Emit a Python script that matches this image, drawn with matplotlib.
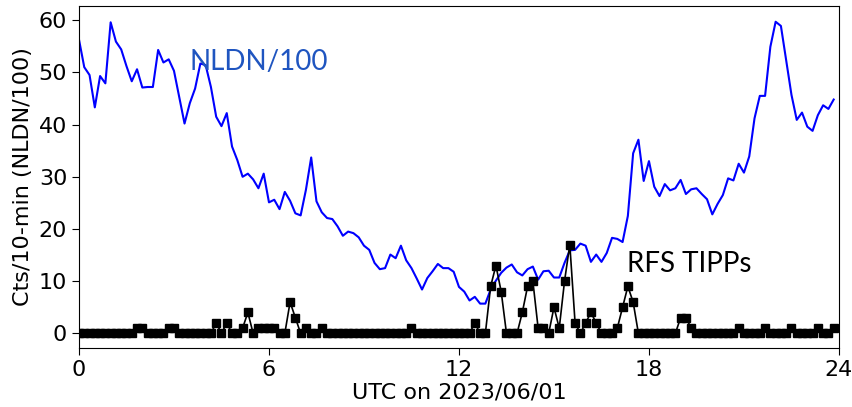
"""
NLDN flash counts (scaled by 1/100) and RFS TIPP counts in 10-min bins
for 2023/06/01, UTC.
"""
import matplotlib

matplotlib.use("Agg")
import matplotlib.pyplot as plt
import numpy as np

# 10-min bins starting at 00:00 UTC
BIN_MINUTES = 10

nldn_per100 = [
    56.3, 51.0, 49.5, 43.3, 49.3, 47.9, 59.6, 55.9, 54.4, 51.2,
    48.3, 50.6, 47.1, 47.2, 47.2, 54.3, 51.9, 52.5, 50.3, 45.2,
    40.2, 44.1, 46.9, 51.7, 51.4, 47.2, 41.5, 39.7, 42.2, 35.8,
    33.2, 30.0, 30.6, 29.5, 27.8, 30.6, 25.1, 25.6, 23.8, 27.1,
    25.4, 23.0, 22.6, 27.5, 33.7, 25.3, 23.2, 22.1, 21.9, 20.5,
    18.7, 19.5, 19.2, 18.4, 16.8, 16.0, 13.5, 12.3, 12.5, 15.1,
    14.4, 16.8, 14.0, 12.5, 10.5, 8.4, 10.6, 11.9, 13.3, 12.5,
    12.5, 11.8, 8.9, 8.0, 6.3, 7.0, 5.7, 5.7, 8.4, 10.1,
    11.6, 12.6, 13.2, 11.7, 11.1, 12.3, 12.8, 10.3, 11.9, 12.0,
    10.7, 10.7, 13.5, 15.9, 16.0, 17.2, 16.8, 13.7, 15.1, 13.7,
    15.4, 18.3, 18.1, 17.5, 22.5, 34.5, 37.1, 29.2, 33.0, 28.1,
    26.3, 28.6, 27.4, 27.8, 29.4, 26.7, 27.6, 27.8, 26.7, 25.7,
    22.8, 24.8, 26.5, 29.7, 29.3, 32.5, 30.8, 33.9, 41.2, 45.5,
    45.5, 54.9, 59.7, 58.9, 52.3, 45.7, 40.9, 42.3, 39.6, 38.8,
    41.8, 43.7, 43.0, 44.8,
]

rfs_tipps = [
    0, 0, 0, 0, 0, 0, 0, 0, 0, 0,
    0, 1, 1, 0, 0, 0, 0, 1, 1, 0,
    0, 0, 0, 0, 0, 0, 2, 0, 2, 0,
    0, 1, 4, 0, 1, 1, 1, 1, 0, 0,
    6, 3, 0, 1, 0, 0, 1, 0, 0, 0,
    0, 0, 0, 0, 0, 0, 0, 0, 0, 0,
    0, 0, 0, 1, 0, 0, 0, 0, 0, 0,
    0, 0, 0, 0, 0, 2, 0, 0, 9, 13,
    8, 0, 0, 0, 4, 9, 10, 1, 1, 0,
    5, 1, 10, 17, 2, 0, 2, 4, 2, 0,
    0, 0, 1, 5, 9, 6, 0, 0, 0, 0,
    0, 0, 0, 0, 3, 3, 1, 0, 0, 0,
    0, 0, 0, 0, 0, 1, 0, 0, 0, 0,
    1, 0, 0, 0, 0, 1, 0, 0, 0, 0,
    1, 0, 0, 1,
]

x_ticks = [0, 6, 12, 18, 24]
y_ticks = [0, 10, 20, 30, 40, 50, 60]

plt.rcParams["font.family"] = ["DejaVu Sans"]
plt.rcParams["font.size"] = 16

hours = np.arange(len(nldn_per100)) * BIN_MINUTES / 60.0

fig = plt.figure(figsize=(8.52, 4.07), dpi=100)
ax = fig.add_axes([0.0927, 0.145, 0.892, 0.840])

ax.plot(hours, nldn_per100, color="#0000ff", linewidth=1.5, zorder=2)
ax.plot(
    hours,
    rfs_tipps,
    color="black",
    linewidth=1.2,
    marker="s",
    markersize=5.8,
    zorder=3,
)

ax.set_xlim(0, 24)
ax.set_ylim(-2.8, 62.7)
ax.set_xticks(x_ticks)
ax.set_yticks(y_ticks)
ax.tick_params(labelsize=16, length=5)
ax.set_xlabel("UTC on 2023/06/01", fontsize=16, labelpad=2)
ax.set_ylabel("Cts/10-min (NLDN/100)", fontsize=16, labelpad=4)

ax.text(3.5, 50.4, "NLDN/100", color="#1f55c0", fontsize=20,
        family=["Lato", "DejaVu Sans"], ha="left", va="baseline")
ax.text(17.3, 11.7, "RFS TIPPs", color="black", fontsize=20,
        family=["Lato", "DejaVu Sans"], ha="left", va="baseline")

fig.savefig("out.png", dpi=100)
